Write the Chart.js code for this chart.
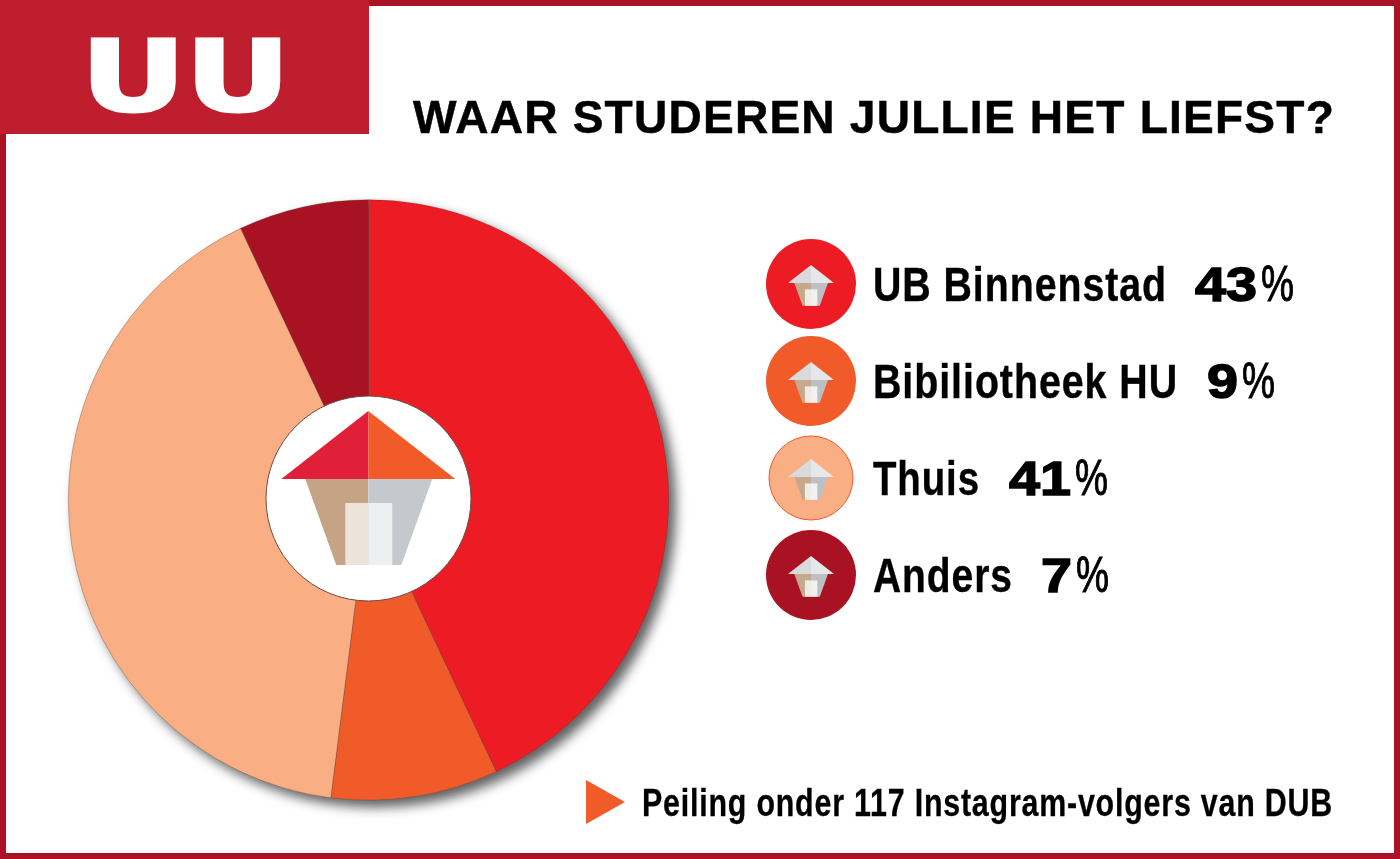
<!DOCTYPE html>
<html><head><meta charset="utf-8">
<script src="https://cdn.jsdelivr.net/npm/chart.js@4/dist/chart.umd.min.js"></script>
<style>
html,body{margin:0;padding:0;background:#fff;width:1400px;height:859px;overflow:hidden}
#wrap{position:relative;width:1400px;height:859px}
canvas{position:absolute;left:0;top:0;filter:drop-shadow(7px 7px 6px rgba(0,0,0,.62))}
svg{position:absolute;left:0;top:0}
</style></head>
<body><div id="wrap"><canvas id="c" width="1400" height="859"></canvas>
<svg id="s" width="1400" height="859" xmlns="http://www.w3.org/2000/svg"></svg></div>
<script>
const categories = ["UB Binnenstad", "Bibiliotheek HU", "Thuis", "Anders"];
const values = [43, 9, 41, 7];
const colors = ["#ed1c24", "#f15a29", "#f9ae84", "#a91222"];
const title = "WAAR STUDEREN JULLIE HET LIEFST?";
const footnote = "Peiling onder 117 Instagram-volgers van DUB";
const logoText = "UU";

// text fitting for the legend rows
const labelWidths = [294, 305, 107, 140];
const pctX = [1195, 1207, 1009, 1041];
const pctW = [62, 31, 62, 31];

new Chart(document.getElementById('c'), {
  type: 'doughnut',
  data: { labels: categories, datasets: [{ data: values, backgroundColor: colors,
    borderColor: 'rgba(90,60,50,.55)', borderWidth: 0.6, hoverOffset: 0 }] },
  options: {
    responsive: false, animation: false, cutout: '33%', rotation: 0, circumference: 360,
    layout: { padding: { left: 68, right: 731, top: 199.5, bottom: 58.5 } },
    plugins: { legend: { display: false }, tooltip: { enabled: false }, title: { display: false } }
  }
});

const NS = 'http://www.w3.org/2000/svg';
const svg = document.getElementById('s');
function el(name, attrs, text) {
  const e = document.createElementNS(NS, name);
  for (const k in attrs) e.setAttribute(k, attrs[k]);
  if (text !== undefined) e.textContent = text;
  svg.appendChild(e);
  return e;
}
function txt(str, x, y, size, w, fam, extra) {
  return el('text', Object.assign({ x, y, 'font-size': size, 'font-family': fam, 'font-weight': 'bold',
    fill: '#000', textLength: w, lengthAdjust: 'spacingAndGlyphs' }, extra || {}), str);
}
const SANS = '"Liberation Sans"', WIDE = '"DejaVu Sans"';

// frame and logo block
const RED = '#be1e2d', FRAME = '#ab1324';
el('rect', { x: 0, y: 0, width: 1400, height: 6, fill: FRAME });
el('rect', { x: 0, y: 0, width: 6, height: 859, fill: FRAME });
el('rect', { x: 1394, y: 0, width: 6, height: 859, fill: FRAME });
el('rect', { x: 0, y: 853, width: 1400, height: 6, fill: FRAME });
el('rect', { x: 0, y: 0, width: 369, height: 134, fill: RED });
txt(logoText, 81, 111, 98, 209, WIDE, { fill: '#fff', stroke: '#fff', 'stroke-width': 3 });
txt(title, 413, 133, 46, 922, SANS, { 'letter-spacing': 1.2, stroke: '#000', 'stroke-width': .5 });

function house(cx, apexY, k, pal) {
  const X = d => cx + d * k, Y = d => apexY + d * k;
  const poly = (pts, fill) => el('polygon', { points: pts.map(p => X(p[0]) + ',' + Y(p[1])).join(' '), fill });
  poly([[0,0],[0,68],[-87,68]], pal[0]);
  poly([[0,0],[87,68],[0,68]], pal[1]);
  poly([[-63,68],[0,68],[0,154],[-32,154]], pal[2]);
  poly([[0,68],[64,68],[33,154],[0,154]], pal[3]);
  poly([[-23,92],[0,92],[0,154],[-23,154]], pal[4]);
  poly([[0,92],[24,92],[24,154],[0,154]], pal[5]);
}

// centre hole and house
el('circle', { cx: 368.5, cy: 498.5, r: 102.5, fill: '#fff', stroke: '#6b4a42', 'stroke-width': 1 });
house(368.3, 411, 1, ['#e21f38', '#f15a29', '#c4a484', '#c5c8cc', '#ece3da', '#eeeff0']);

// legend
categories.forEach((c, i) => {
  const cy = 284 + 97 * i, base = 301 + 97 * i;
  if (i === 2) el('circle', { cx: 811, cy: 478, r: 42, fill: colors[i], stroke: '#f15a29', 'stroke-width': 1 });
  else el('circle', { cx: 811, cy, r: 45, fill: colors[i] });
  house(811, cy - 19, 0.265, ['#d9dadc', '#e6e7e8', '#c4a98c', '#bcc0c4', '#efece6', '#f1f1f1']);
  txt(c, 873, base, 49, labelWidths[i], SANS, { 'letter-spacing': 1.2, stroke: '#000', 'stroke-width': .4 });
  txt(String(values[i]), pctX[i], base - 0.5, 49, pctW[i], SANS, { stroke: '#000', 'stroke-width': 1.5 });
  txt('%', pctX[i] + pctW[i] + 4, base, 50, 33, SANS, { 'font-weight': 'normal', stroke: '#000', 'stroke-width': 1 });
});

// footnote
el('polygon', { points: '586,780 625,802 586,824', fill: '#f15a29' });
txt(footnote, 642, 815.5, 38, 691, SANS, { 'letter-spacing': 1, stroke: '#000', 'stroke-width': .3 });
</script>
</body></html>
